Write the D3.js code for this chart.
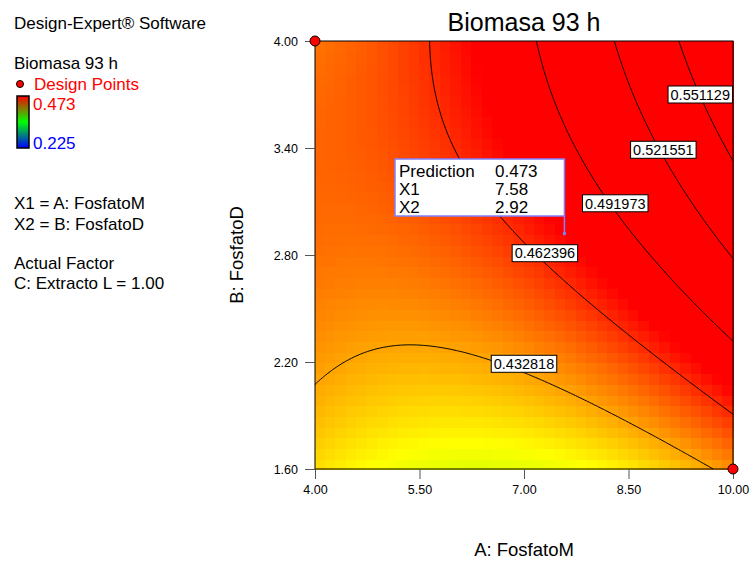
<!DOCTYPE html>
<html>
<head>
<meta charset="utf-8">
<script src="https://cdn.jsdelivr.net/npm/d3@7"></script>
<style>
  body { margin: 0; background: #fff; }
  text { font-family: "Liberation Sans", Arial, sans-serif; }
</style>
</head>
<body>
<svg id="chart" width="750" height="562"></svg>
<script>
// ---- Factors and axes ----
const factorA = { name: "A: FosfatoM", low: 4.0, high: 10.0 };
const factorB = { name: "B: FosfatoD", low: 1.6, high: 4.0 };
const xTicks = [4.0, 5.5, 7.0, 8.5, 10.0];
const yTicks = [1.6, 2.2, 2.8, 3.4, 4.0];

// ---- Fitted quadratic model (coded units A, B in [-1, 1]) ----
const modelTerms = ["Intercept", "A", "B", "AB", "A^2", "B^2"];
const modelCoefs = [0.4600, 0.0385, 0.0418, 0.0289, 0.0242, -0.0139];

// ---- Contours, colour range, points ----
const contourLevels = [0.432818, 0.462396, 0.491973, 0.521551, 0.551129];
const contourLabelA = [7.00, 7.30, 8.31, 9.00, 9.53];   // label centres, factor A
const contourLabelB = [2.19, 2.81, 3.09, 3.39, 3.70];   // label centres, factor B
const colorRange = [0.225, 0.473];
const designPoints = [[4.0, 4.0], [10.0, 1.6]];
const predictionRows = [["Prediction", "0.473"], ["X1", "7.58"], ["X2", "2.92"]];
const predictionPoint = [7.58, 2.92];
const legendLines = [
  { text: "Design-Expert® Software", y: 29 },
  { text: "Biomasa 93 h", y: 69 },
  { text: "X1 = A: FosfatoM", y: 209 },
  { text: "X2 = B: FosfatoD", y: 230 },
  { text: "Actual Factor", y: 269 },
  { text: "C: Extracto L = 1.00", y: 289 }
];

const svg = d3.select("#chart");
const plot = { left: 315, right: 733, top: 41, bottom: 469 };
const x = d3.scaleLinear([factorA.low, factorA.high], [plot.left, plot.right]);
const y = d3.scaleLinear([factorB.low, factorB.high], [plot.bottom, plot.top]);

function coded(v, f) { return (v - (f.low + f.high) / 2) / ((f.high - f.low) / 2); }
function predict(a, b) {
  const A = coded(a, factorA), B = coded(b, factorB);
  const t = [1, A, B, A * B, A * A, B * B];
  return d3.sum(t, (d, i) => d * modelCoefs[i]);
}
// hue runs from blue (low) to red (high)
const hueScale = d3.scaleLinear(colorRange, [240, 0]).clamp(true);
const colorOf = v => d3.hsl(hueScale(v), 1, 0.5).formatHex();

svg.append("defs").append("clipPath").attr("id", "plotClip")
  .append("rect").attr("x", plot.left).attr("y", plot.top)
  .attr("width", plot.right - plot.left).attr("height", plot.bottom - plot.top);

// ---- Heat map cells ----
const nCells = 40;
const stepA = (factorA.high - factorA.low) / nCells;
const stepB = (factorB.high - factorB.low) / nCells;
const cells = [];
for (let j = 0; j < nCells; j++) {
  for (let i = 0; i < nCells; i++) {
    const a0 = factorA.low + i * stepA, b0 = factorB.low + j * stepB;
    cells.push({ a0, a1: a0 + stepA, b0, b1: b0 + stepB,
                 v: predict(a0 + stepA / 2, b0 + stepB / 2) });
  }
}
svg.append("g").attr("shape-rendering", "crispEdges")
  .selectAll("rect").data(cells).join("rect")
  .attr("x", d => Math.floor(x(d.a0)))
  .attr("y", d => Math.floor(y(d.b1)))
  .attr("width", d => Math.ceil(x(d.a1)) - Math.floor(x(d.a0)) + 1)
  .attr("height", d => Math.ceil(y(d.b0)) - Math.floor(y(d.b1)) + 1)
  .attr("fill", d => colorOf(d.v));

// ---- Contour lines ----
const n = 240;
const grid = new Array(n * n);
for (let j = 0; j < n; j++) {
  for (let i = 0; i < n; i++) {
    const a = factorA.low + i / (n - 1) * (factorA.high - factorA.low);
    const b = factorB.low + j / (n - 1) * (factorB.high - factorB.low);
    grid[j * n + i] = predict(a, b);
  }
}
const contours = d3.contours().size([n, n]).thresholds(contourLevels)(grid);
const toPlot = d3.geoTransform({
  point(cx, cy) {
    const a = factorA.low + (cx - 0.5) / (n - 1) * (factorA.high - factorA.low);
    const b = factorB.low + (cy - 0.5) / (n - 1) * (factorB.high - factorB.low);
    this.stream.point(x(a), y(b));
  }
});
svg.append("g").attr("clip-path", "url(#plotClip)")
  .selectAll("path").data(contours).join("path")
  .attr("d", d3.geoPath(toPlot))
  .attr("fill", "none").attr("stroke", "#000").attr("stroke-width", 1);

// ---- Frame ----
svg.append("rect").attr("x", plot.left).attr("y", plot.top)
  .attr("width", plot.right - plot.left).attr("height", plot.bottom - plot.top)
  .attr("fill", "none").attr("stroke", "#000").attr("stroke-width", 1);

// ---- Contour labels ----
const labelG = svg.append("g");
contourLevels.forEach((lv, k) => {
  const g = labelG.append("g")
    .attr("transform", `translate(${x(contourLabelA[k])},${y(contourLabelB[k])})`);
  const t = g.append("text").attr("text-anchor", "middle").attr("dy", "0.36em")
    .attr("font-size", 14.5).attr("fill", "#000").text(String(lv));
  const bb = t.node().getBBox();
  g.insert("rect", "text").attr("x", bb.x - 2.5).attr("y", -8.5)
    .attr("width", bb.width + 5).attr("height", 17)
    .attr("fill", "#fff").attr("stroke", "#000").attr("stroke-width", 1);
});

// ---- Axes ----
const fmt = d3.format(".2f");
const yAxis = svg.append("g").attr("transform", `translate(${plot.left},0)`)
  .call(d3.axisLeft(y).tickValues(yTicks).tickFormat(fmt).tickSize(10).tickPadding(7));
const xAxis = svg.append("g").attr("transform", `translate(0,${plot.bottom})`)
  .call(d3.axisBottom(x).tickValues(xTicks).tickFormat(fmt).tickSize(10).tickPadding(6));
[xAxis, yAxis].forEach(ax => {
  ax.select(".domain").remove();
  ax.selectAll(".tick line").attr("stroke", "#555");
  ax.selectAll(".tick text").attr("font-size", 12.5).attr("fill", "#000")
    .attr("font-family", "'Liberation Sans', Arial, sans-serif");
});

svg.append("text").attr("x", (plot.left + plot.right) / 2).attr("y", 556)
  .attr("text-anchor", "middle").attr("font-size", 18.5).text(factorA.name);
svg.append("text").attr("transform", `translate(243,${(plot.top + plot.bottom) / 2}) rotate(-90)`)
  .attr("text-anchor", "middle").attr("font-size", 18.5).text(factorB.name);

// ---- Title ----
svg.append("text").attr("x", (plot.left + plot.right) / 2).attr("y", 31)
  .attr("text-anchor", "middle").attr("font-size", 25).text("Biomasa 93 h");

// ---- Design points ----
svg.append("g").selectAll("circle").data(designPoints).join("circle")
  .attr("cx", d => x(d[0])).attr("cy", d => y(d[1])).attr("r", 5)
  .attr("fill", "#ff0000").attr("stroke", "#000").attr("stroke-width", 1);

// ---- Prediction flag ----
const px = x(predictionPoint[0]), py = y(predictionPoint[1]);
const flag = svg.append("g");
flag.append("line").attr("x1", px).attr("x2", px).attr("y1", 216).attr("y2", py)
  .attr("stroke", "#7f7fff").attr("stroke-width", 1.5);
flag.append("rect").attr("x", px - 1.5).attr("y", py - 1.5).attr("width", 3).attr("height", 3)
  .attr("fill", "#7f7fff");
flag.append("rect").attr("x", 395).attr("y", 159).attr("width", px - 395).attr("height", 57)
  .attr("fill", "#fff").attr("stroke", "#8080ff").attr("stroke-width", 1.5);
predictionRows.forEach((r, i) => {
  flag.append("text").attr("x", 399).attr("y", 177 + i * 18).attr("font-size", 17).text(r[0]);
  flag.append("text").attr("x", 495).attr("y", 177 + i * 18).attr("font-size", 17).text(r[1]);
});

// ---- Side legend ----
const side = svg.append("g");
legendLines.forEach(l => {
  side.append("text").attr("x", 14).attr("y", l.y).attr("font-size", 17)
    .attr("fill", "#000").text(l.text);
});
side.append("circle").attr("cx", 20).attr("cy", 84).attr("r", 3.5)
  .attr("fill", "#ff0000").attr("stroke", "#000").attr("stroke-width", 1);
side.append("text").attr("x", 34).attr("y", 90).attr("font-size", 17)
  .attr("fill", "#ff0000").text("Design Points");
const grad = svg.select("defs").append("linearGradient").attr("id", "legendGrad")
  .attr("x1", 0).attr("y1", 0).attr("x2", 0).attr("y2", 1);
grad.append("stop").attr("offset", "0%").attr("stop-color", "#ff0000");
grad.append("stop").attr("offset", "50%").attr("stop-color", "#00ff00");
grad.append("stop").attr("offset", "100%").attr("stop-color", "#0000ff");
side.append("rect").attr("x", 17).attr("y", 96).attr("width", 12).attr("height", 52)
  .attr("fill", "url(#legendGrad)").attr("stroke", "#000").attr("stroke-width", 1.5);
side.append("text").attr("x", 33).attr("y", 110).attr("font-size", 17)
  .attr("fill", "#ff0000").text(colorRange[1].toFixed(3));
side.append("text").attr("x", 33).attr("y", 149).attr("font-size", 17)
  .attr("fill", "#0000ff").text(colorRange[0].toFixed(3));
</script>
</body>
</html>
